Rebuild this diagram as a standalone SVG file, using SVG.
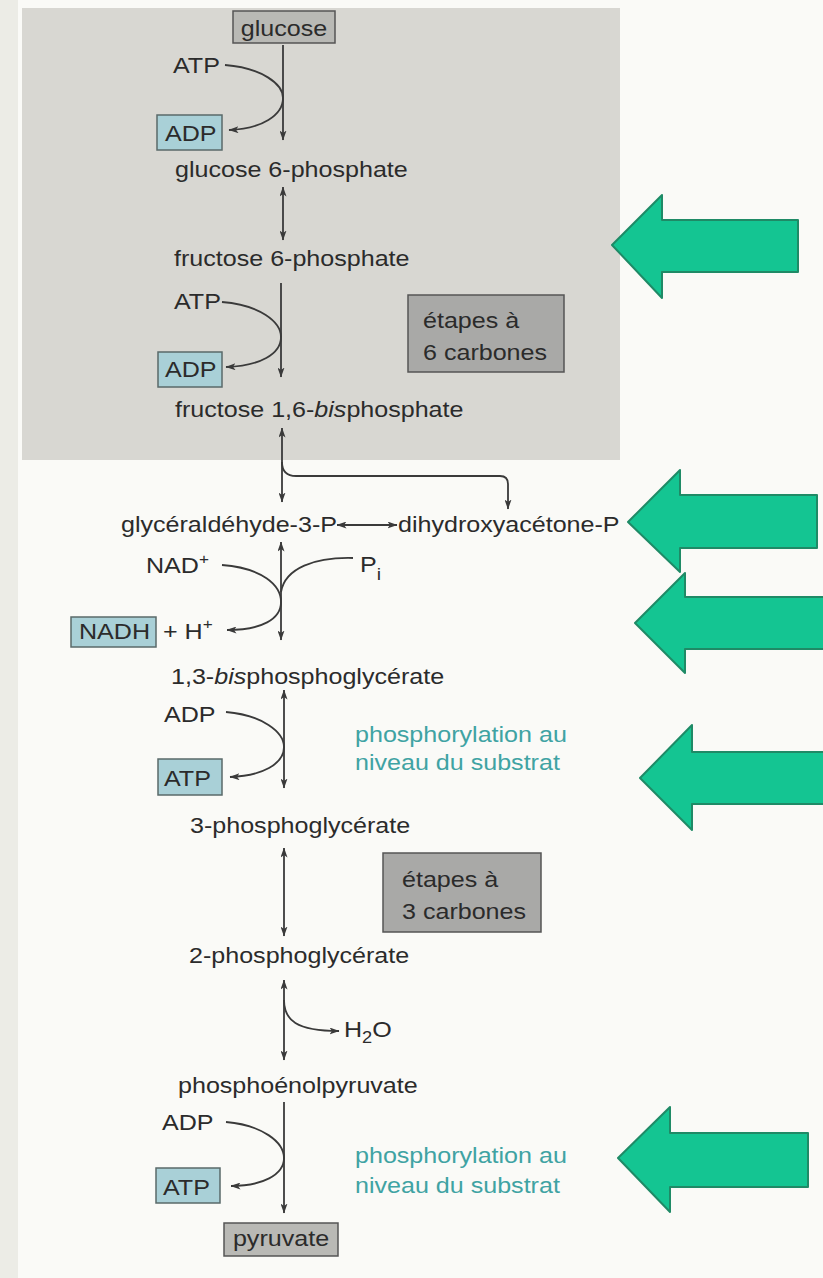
<svg xmlns="http://www.w3.org/2000/svg" width="823" height="1278" viewBox="0 0 823 1278">
<style>
.t{font-family:"Liberation Sans",Arial,sans-serif;font-size:22px;fill:#2b2b2b}
.p{font-family:"Liberation Sans",Arial,sans-serif;font-size:22px;fill:#3fa3a3}
.ln{fill:none;stroke:#3a3a3a;stroke-width:1.8}
.gbox{fill:#b9b9b5;stroke:#555;stroke-width:1.5}
.bbox{fill:#a9d0d7;stroke:#5a6a6a;stroke-width:1.5}
.ebox{fill:#a9a9a7;stroke:#555;stroke-width:1.5}
.ga{fill:#14c592;stroke:#1f8a66;stroke-width:2;stroke-linejoin:round}
</style>
<defs>
<marker id="ah" viewBox="0 0 10 7" refX="9.5" refY="3.5" markerWidth="10" markerHeight="7" orient="auto-start-reverse" markerUnits="userSpaceOnUse">
<path d="M0,0 L10,3.5 L0,7 L2.5,3.5 z" fill="#3a3a3a"/>
</marker>
</defs>
<g id="background">
<rect x="0" y="0" width="823" height="1278" fill="#fafaf7"/>
<rect x="0" y="0" width="18" height="1278" fill="#ecece6"/>
<rect x="22" y="8" width="598" height="452" fill="#d8d7d2"/>
</g>
<g id="connectors">
<line class="ln" x1="283" y1="45" x2="283" y2="140" marker-end="url(#ah)"/>
<path class="ln" d="M225,65 C262,68 283,84 283,98 C283,115 262,129 229,130" marker-end="url(#ah)"/>
<line class="ln" x1="283" y1="187" x2="283" y2="240" marker-start="url(#ah)" marker-end="url(#ah)"/>
<line class="ln" x1="281" y1="283" x2="281" y2="377" marker-end="url(#ah)"/>
<path class="ln" d="M222,302 C260,305 281,322 281,337 C281,354 260,366 226,367" marker-end="url(#ah)"/>
<line class="ln" x1="282" y1="428" x2="282" y2="502" marker-start="url(#ah)" marker-end="url(#ah)"/>
<path class="ln" d="M282,462 Q282,476 296,476 L500,476 Q508,476 508,484 L508,509" marker-end="url(#ah)"/>
<line class="ln" x1="337" y1="525" x2="397" y2="525" marker-start="url(#ah)" marker-end="url(#ah)"/>
<line class="ln" x1="281" y1="542" x2="281" y2="640" marker-start="url(#ah)" marker-end="url(#ah)"/>
<path class="ln" d="M222,565 C262,568 281,585 281,602 C281,619 262,630 227,630" marker-end="url(#ah)"/>
<path class="ln" d="M353,558 C315,557 285,568 281,592"/>
<line class="ln" x1="284" y1="690" x2="284" y2="788" marker-start="url(#ah)" marker-end="url(#ah)"/>
<path class="ln" d="M226,712 C262,715 284,732 284,747 C284,764 262,776 230,777" marker-end="url(#ah)"/>
<line class="ln" x1="284" y1="848" x2="284" y2="936" marker-start="url(#ah)" marker-end="url(#ah)"/>
<line class="ln" x1="284" y1="980" x2="284" y2="1060" marker-start="url(#ah)" marker-end="url(#ah)"/>
<path class="ln" d="M284,1000 C284,1020 296,1031 339,1031" marker-end="url(#ah)"/>
<line class="ln" x1="284" y1="1102" x2="284" y2="1213" marker-end="url(#ah)"/>
<path class="ln" d="M226,1122 C262,1125 284,1142 284,1158 C284,1175 262,1186 231,1186" marker-end="url(#ah)"/>
</g>
<g id="glucose"><rect class="gbox" x="233" y="11" width="102" height="32"/><text class="t" text-anchor="middle" transform="translate(284,36) scale(1.14,1)">glucose</text></g>
<g id="atp1"><text class="t" transform="translate(173,73) scale(1.14,1)">ATP</text></g>
<g id="adp1"><rect class="bbox" x="157" y="115" width="65" height="35"/><text class="t" transform="translate(165,141) scale(1.14,1)">ADP</text></g>
<g id="g6p"><text class="t" transform="translate(175,177) scale(1.14,1)">glucose 6-phosphate</text></g>
<g id="f6p"><text class="t" transform="translate(174,266) scale(1.14,1)">fructose 6-phosphate</text></g>
<g id="atp2"><text class="t" transform="translate(174,309) scale(1.14,1)">ATP</text></g>
<g id="adp2"><rect class="bbox" x="158" y="352" width="64" height="35"/><text class="t" transform="translate(165,377) scale(1.14,1)">ADP</text></g>
<g id="etapes6"><rect class="ebox" x="408" y="295" width="156" height="77"/><text class="t" transform="translate(423,328) scale(1.14,1)">étapes à</text><text class="t" transform="translate(423,360) scale(1.14,1)">6 carbones</text></g>
<g id="f16bp"><text class="t" transform="translate(175,417) scale(1.14,1)">fructose 1,6-<tspan font-style="italic">bis</tspan>phosphate</text></g>
<g id="g3p"><text class="t" transform="translate(121,532) scale(1.14,1)">glycéraldéhyde-3-P</text></g>
<g id="dhap"><text class="t" transform="translate(398,532) scale(1.14,1)">dihydroxyacétone-P</text></g>
<g id="nad"><text class="t" transform="translate(146,573) scale(1.14,1)">NAD<tspan dy="-9" font-size="15">+</tspan></text></g>
<g id="pi"><text class="t" transform="translate(360,572) scale(1.14,1)">P<tspan dy="8" font-size="17">i</tspan></text></g>
<g id="nadh"><rect class="bbox" x="71" y="617" width="85" height="30"/><text class="t" transform="translate(79,639) scale(1.14,1)">NADH</text><text class="t" transform="translate(163,639) scale(1.14,1)">+ H<tspan dy="-10" font-size="15">+</tspan></text></g>
<g id="bpg13"><text class="t" transform="translate(171,684) scale(1.14,1)">1,3-<tspan font-style="italic">bis</tspan>phosphoglycérate</text></g>
<g id="adp3"><text class="t" transform="translate(164,722) scale(1.14,1)">ADP</text></g>
<g id="atp3"><rect class="bbox" x="158" y="759" width="64" height="36"/><text class="t" transform="translate(164,786) scale(1.14,1)">ATP</text></g>
<g id="phos1"><text class="p" transform="translate(355,742) scale(1.14,1)">phosphorylation au</text><text class="p" transform="translate(355,770) scale(1.14,1)">niveau du substrat</text></g>
<g id="pg3"><text class="t" transform="translate(190,833) scale(1.14,1)">3-phosphoglycérate</text></g>
<g id="etapes3"><rect class="ebox" x="383" y="853" width="158" height="79"/><text class="t" transform="translate(402,887) scale(1.14,1)">étapes à</text><text class="t" transform="translate(402,919) scale(1.14,1)">3 carbones</text></g>
<g id="pg2"><text class="t" transform="translate(189,963) scale(1.14,1)">2-phosphoglycérate</text></g>
<g id="h2o"><text class="t" transform="translate(344,1037) scale(1.14,1)">H<tspan dy="6" font-size="16">2</tspan><tspan dy="-6">O</tspan></text></g>
<g id="pep"><text class="t" transform="translate(178,1093) scale(1.14,1)">phosphoénolpyruvate</text></g>
<g id="adp4"><text class="t" transform="translate(162,1130) scale(1.14,1)">ADP</text></g>
<g id="atp4"><rect class="bbox" x="156" y="1168" width="64" height="35"/><text class="t" transform="translate(163,1195) scale(1.14,1)">ATP</text></g>
<g id="phos2"><text class="p" transform="translate(355,1163) scale(1.14,1)">phosphorylation au</text><text class="p" transform="translate(355,1193) scale(1.14,1)">niveau du substrat</text></g>
<g id="pyruvate"><rect class="gbox" x="224" y="1223" width="114" height="33"/><text class="t" text-anchor="middle" transform="translate(281,1246) scale(1.14,1)">pyruvate</text></g>
<g id="green-arrows">
<polygon class="ga" points="612,245 662,195 662,220 798,220 798,272 662,272 662,298"/>
<polygon class="ga" points="628,522 680,470 680,495 817,495 817,548 680,548 680,572"/>
<polygon class="ga" points="635,623 685,573 685,597 830,597 830,649 685,649 685,673"/>
<polygon class="ga" points="640,778 692,725 692,752 830,752 830,804 692,804 692,830"/>
<polygon class="ga" points="618,1158 670,1107 670,1133 808,1133 808,1187 670,1187 670,1212"/>
</g>
</svg>
